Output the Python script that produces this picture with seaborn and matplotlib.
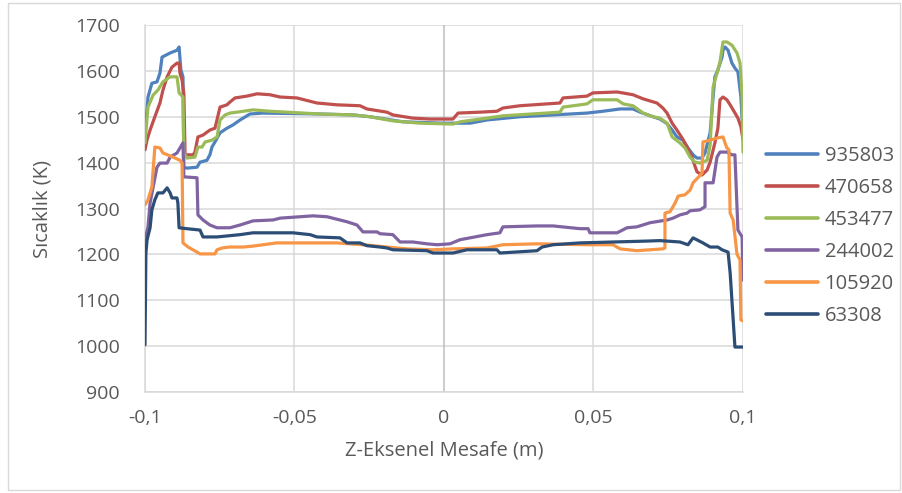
import matplotlib
matplotlib.use("Agg")
import matplotlib.pyplot as plt
from matplotlib.patches import Rectangle
import seaborn as sns
import pandas as pd

series_names = ["935803", "470658", "453477", "244002", "105920", "63308"]
series_colors = ["#4F81BD", "#C0504D", "#9BBB59", "#8064A2", "#F79646", "#2C4D75"]

x_935803 = [-0.1000, -0.0990, -0.0977, -0.0960, -0.0950, -0.0943, -0.0916, -0.0893, -0.0886, -0.0880,
            -0.0873, -0.0870, -0.0860, -0.0826, -0.0816, -0.0793, -0.0783, -0.0776, -0.0766, -0.0749,
            -0.0726, -0.0706, -0.0682, -0.0649, -0.0605, -0.0415, -0.0304, -0.0247, -0.0137, -0.0003,
            0.0087, 0.0144, 0.0254, 0.0365, 0.0478, 0.0532, 0.0589, 0.0632, 0.0656, 0.0699,
            0.0722, 0.0746, 0.0763, 0.0779, 0.0799, 0.0816, 0.0833, 0.0846, 0.0863, 0.0873,
            0.0890, 0.0900, 0.0906, 0.0916, 0.0930, 0.0933, 0.0940, 0.0950, 0.0963, 0.0973,
            0.0983, 0.0993, 0.1000]
t_935803 = [1460, 1543, 1573, 1576, 1595, 1630, 1639, 1645, 1652, 1602,
            1587, 1390, 1388, 1390, 1401, 1405, 1417, 1434, 1445, 1465,
            1475, 1482, 1493, 1506, 1508, 1506, 1504, 1500, 1489, 1486,
            1486, 1493, 1500, 1504, 1508, 1512, 1517, 1517, 1510, 1500,
            1495, 1485, 1471, 1456, 1449, 1432, 1417, 1410, 1410, 1421,
            1465, 1543, 1587, 1602, 1630, 1645, 1652, 1645, 1617, 1606,
            1598, 1543, 1460]

x_470658 = [-0.1000, -0.0993, -0.0983, -0.0967, -0.0950, -0.0940, -0.0926, -0.0910, -0.0893, -0.0886,
            -0.0883, -0.0876, -0.0870, -0.0866, -0.0839, -0.0833, -0.0823, -0.0806, -0.0783, -0.0766,
            -0.0749, -0.0726, -0.0716, -0.0699, -0.0659, -0.0625, -0.0582, -0.0548, -0.0492, -0.0425,
            -0.0358, -0.0281, -0.0258, -0.0191, -0.0171, -0.0104, -0.0047, 0.0030, 0.0047, 0.0120,
            0.0177, 0.0197, 0.0254, 0.0388, 0.0398, 0.0478, 0.0498, 0.0579, 0.0632, 0.0666,
            0.0712, 0.0732, 0.0746, 0.0763, 0.0779, 0.0796, 0.0813, 0.0829, 0.0846, 0.0863,
            0.0880, 0.0890, 0.0906, 0.0916, 0.0923, 0.0933, 0.0946, 0.0957, 0.0967, 0.0983,
            0.0993, 0.1000]
t_470658 = [1428, 1450, 1471, 1500, 1530, 1558, 1587, 1608, 1617, 1617,
            1595, 1580, 1550, 1417, 1417, 1423, 1456, 1460, 1471, 1475,
            1521, 1526, 1532, 1541, 1545, 1550, 1548, 1543, 1541, 1530,
            1526, 1524, 1517, 1510, 1504, 1497, 1495, 1495, 1508, 1510,
            1512, 1519, 1524, 1530, 1541, 1545, 1552, 1554, 1548, 1539,
            1530, 1519, 1508, 1486, 1471, 1454, 1434, 1412, 1380, 1373,
            1384, 1401, 1443, 1475, 1537, 1543, 1537, 1526, 1515, 1497,
            1478, 1450]

x_453477 = [-0.1000, -0.0990, -0.0973, -0.0957, -0.0940, -0.0916, -0.0893, -0.0886, -0.0873, -0.0870,
            -0.0860, -0.0833, -0.0823, -0.0809, -0.0799, -0.0776, -0.0759, -0.0749, -0.0732, -0.0716,
            -0.0692, -0.0639, -0.0582, -0.0525, -0.0415, -0.0304, -0.0247, -0.0171, -0.0080, 0.0030,
            0.0054, 0.0144, 0.0197, 0.0388, 0.0398, 0.0478, 0.0498, 0.0579, 0.0599, 0.0632,
            0.0666, 0.0699, 0.0722, 0.0746, 0.0763, 0.0789, 0.0806, 0.0823, 0.0839, 0.0856,
            0.0880, 0.0890, 0.0900, 0.0913, 0.0923, 0.0933, 0.0946, 0.0963, 0.0980, 0.0990,
            0.0997, 0.1000]
t_453477 = [1443, 1521, 1547, 1558, 1576, 1587, 1587, 1552, 1543, 1421,
            1410, 1412, 1434, 1434, 1445, 1449, 1456, 1493, 1504, 1508,
            1510, 1515, 1512, 1510, 1506, 1504, 1500, 1491, 1486, 1484,
            1489, 1497, 1502, 1510, 1521, 1528, 1537, 1537, 1528, 1524,
            1508, 1500, 1497, 1486, 1456, 1443, 1432, 1412, 1401, 1399,
            1405, 1438, 1565, 1595, 1619, 1663, 1663, 1656, 1639, 1617,
            1543, 1423]

x_244002 = [-0.1000, -0.0997, -0.0990, -0.0983, -0.0960, -0.0950, -0.0926, -0.0916, -0.0893, -0.0883,
            -0.0873, -0.0870, -0.0826, -0.0823, -0.0806, -0.0783, -0.0759, -0.0716, -0.0682, -0.0639,
            -0.0572, -0.0548, -0.0438, -0.0391, -0.0324, -0.0291, -0.0271, -0.0224, -0.0214, -0.0171,
            -0.0147, -0.0104, -0.0057, -0.0023, 0.0020, 0.0054, 0.0144, 0.0187, 0.0197, 0.0311,
            0.0365, 0.0455, 0.0482, 0.0488, 0.0579, 0.0612, 0.0645, 0.0689, 0.0746, 0.0766,
            0.0789, 0.0813, 0.0823, 0.0856, 0.0873, 0.0873, 0.0900, 0.0913, 0.0923, 0.0946,
            0.0963, 0.0973, 0.0983, 0.0997, 0.1000]
t_244002 = [1185, 1240, 1260, 1312, 1390, 1399, 1399, 1412, 1421, 1432,
            1443, 1369, 1367, 1286, 1275, 1264, 1258, 1258, 1264, 1273,
            1275, 1279, 1284, 1282, 1271, 1264, 1249, 1249, 1245, 1243,
            1227, 1227, 1223, 1221, 1223, 1232, 1243, 1247, 1260, 1262,
            1262, 1256, 1256, 1247, 1247, 1258, 1260, 1269, 1275, 1279,
            1286, 1290, 1295, 1297, 1304, 1356, 1356, 1412, 1423, 1423,
            1417, 1417, 1253, 1238, 1144]

x_105920 = [-0.1000, -0.0990, -0.0977, -0.0967, -0.0950, -0.0940, -0.0906, -0.0883, -0.0876, -0.0873,
            -0.0856, -0.0826, -0.0816, -0.0766, -0.0759, -0.0742, -0.0716, -0.0672, -0.0639, -0.0559,
            -0.0472, -0.0358, -0.0271, -0.0191, -0.0124, -0.0037, 0.0030, 0.0144, 0.0197, 0.0311,
            0.0478, 0.0565, 0.0589, 0.0645, 0.0732, 0.0739, 0.0739, 0.0756, 0.0773, 0.0783,
            0.0806, 0.0823, 0.0833, 0.0849, 0.0863, 0.0866, 0.0890, 0.0916, 0.0933, 0.0946,
            0.0953, 0.0957, 0.0967, 0.0980, 0.0990, 0.0993, 0.1000]
t_105920 = [1308, 1319, 1347, 1434, 1432, 1421, 1412, 1405, 1399, 1225,
            1216, 1205, 1201, 1201, 1210, 1214, 1216, 1216, 1218, 1225,
            1225, 1225, 1221, 1216, 1212, 1210, 1212, 1214, 1221, 1223,
            1221, 1221, 1212, 1208, 1212, 1214, 1290, 1293, 1312, 1327,
            1330, 1340, 1356, 1367, 1377, 1445, 1449, 1454, 1456, 1432,
            1428, 1290, 1275, 1200, 1188, 1057, 1055]

x_63308 = [-0.1000, -0.0997, -0.0993, -0.0983, -0.0977, -0.0967, -0.0957, -0.0940, -0.0926, -0.0916,
           -0.0910, -0.0893, -0.0890, -0.0886, -0.0860, -0.0816, -0.0806, -0.0759, -0.0682, -0.0639,
           -0.0505, -0.0448, -0.0425, -0.0348, -0.0324, -0.0281, -0.0258, -0.0214, -0.0191, -0.0171,
           -0.0057, -0.0037, 0.0030, 0.0077, 0.0177, 0.0187, 0.0311, 0.0328, 0.0365, 0.0455,
           0.0679, 0.0722, 0.0789, 0.0816, 0.0833, 0.0866, 0.0890, 0.0916, 0.0930, 0.0950,
           0.0957, 0.0973, 0.1000]
t_63308 = [1003, 1203, 1232, 1258, 1297, 1319, 1334, 1334, 1345, 1334,
           1323, 1323, 1312, 1258, 1256, 1253, 1238, 1238, 1243, 1247,
           1247, 1243, 1238, 1236, 1225, 1225, 1219, 1216, 1214, 1210,
           1208, 1203, 1203, 1210, 1210, 1203, 1208, 1216, 1221, 1225,
           1229, 1230, 1227, 1221, 1236, 1225, 1216, 1216, 1210, 1205,
           1160, 998, 998]

x_ticks = [-0.1, -0.05, 0, 0.05, 0.1]
x_tick_labels = ["-0,1", "-0,05", "0", "0,05", "0,1"]
y_ticks = [900, 1000, 1100, 1200, 1300, 1400, 1500, 1600, 1700]

all_x = [x_935803, x_470658, x_453477, x_244002, x_105920, x_63308]
all_t = [t_935803, t_470658, t_453477, t_244002, t_105920, t_63308]

frames = []
for name, xs, ts in zip(series_names, all_x, all_t):
    frames.append(pd.DataFrame({"z": xs, "T": ts, "seri": name}))
df = pd.concat(frames, ignore_index=True)

sns.set_theme(style="white")
plt.rcParams["font.family"] = ["Open Sans", "DejaVu Sans"]

fig = plt.figure(figsize=(9.03, 4.93), dpi=100)
ax = fig.add_axes([145 / 903, 1 - 392 / 493, (743 - 145) / 903, (392 - 25) / 493])

grid_c = "#d9d9d9"
for yv in y_ticks:
    ax.axhline(yv, color=grid_c, lw=1.1, zorder=0)
for xv in x_ticks:
    ax.axvline(xv, color="#bfbfbf" if xv == 0 else grid_c, lw=1.1, zorder=0)

palette = dict(zip(series_names, series_colors))
for name in series_names:
    sub = df[df["seri"] == name]
    sns.lineplot(data=sub, x="z", y="T", color=palette[name], lw=2.3, sort=False,
                 estimator=None, ax=ax, label=name, legend=False, zorder=3)

ax.set_xlim(-0.1, 0.1)
ax.set_ylim(900, 1700)
ax.set_xticks(x_ticks)
ax.set_xticklabels(x_tick_labels)
ax.set_yticks(y_ticks)
ax.tick_params(axis="both", length=0, labelsize=14, colors="#595959")
ax.tick_params(axis="y", pad=18)
ax.tick_params(axis="x", pad=12)
for s in ["top", "right"]:
    ax.spines[s].set_visible(False)
for s in ["left", "bottom"]:
    ax.spines[s].set_color(grid_c)
    ax.spines[s].set_linewidth(1.1)

ax.set_xlabel("Z-Eksenel Mesafe (m)", fontsize=14.5, color="#595959", labelpad=10)
ax.set_ylabel("Sıcaklık (K)", fontsize=14.5, color="#595959", labelpad=16)

handles = [h for h in ax.get_lines() if h.get_label() in series_names]
fig.legend(handles=handles, labels=series_names, loc="center left",
           bbox_to_anchor=(748 / 903, 1 - 236 / 493), frameon=False,
           fontsize=14.5, handlelength=2.6, handletextpad=0.3, labelspacing=0.6,
           labelcolor="#595959")
for lh in fig.legends[0].get_lines():
    lh.set_linewidth(2.6)

fig.patches.append(Rectangle((8 / 903, 3 / 493), 892 / 903, 487 / 493, transform=fig.transFigure,
                             fill=False, edgecolor=grid_c, lw=1.0))

fig.savefig("out.png", dpi=100)
